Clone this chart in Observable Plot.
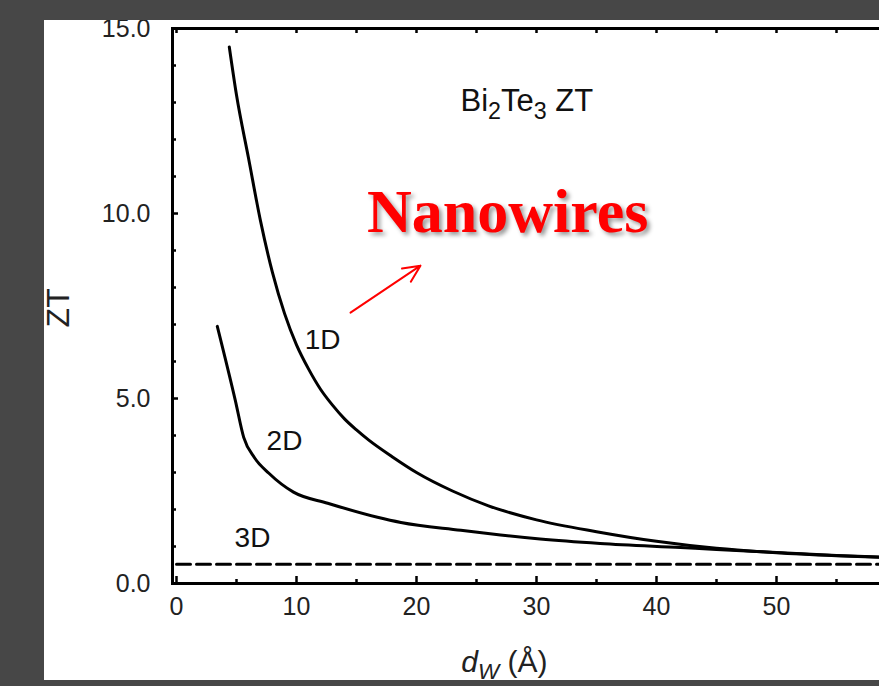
<!DOCTYPE html>
<html><head><meta charset="utf-8">
<script src="https://cdn.jsdelivr.net/npm/d3@7"></script>
<script src="https://cdn.jsdelivr.net/npm/@observablehq/plot@0.6"></script>
<style>
html,body{margin:0;padding:0;background:#474747;width:879px;height:686px;overflow:hidden;}
#panel{position:absolute;left:44px;top:20px;width:835px;height:660px;background:#fff;overflow:hidden;}
#chart{position:absolute;left:-44px;top:-20px;width:920px;height:680px;}
#chart svg{max-width:none !important;width:920px;height:680px;}
</style></head><body><div id="panel"><div id="chart"></div></div>
<script>
// ---- data ----
const dw1D = [4.4, 5, 6, 7, 8, 9, 10, 11, 12, 13, 14, 15, 16, 18, 20, 23, 26, 30, 35, 40, 45, 50, 55, 60];
const zt1D = [14.5, 13.2, 11.5, 9.8, 8.4, 7.3, 6.45, 5.8, 5.25, 4.82, 4.45, 4.15, 3.88, 3.42, 3.0, 2.5, 2.1, 1.72, 1.40, 1.14, 0.95, 0.83, 0.75, 0.69];
const dw2D = [3.4, 4.9, 5.6, 6.5, 7.7, 9.75, 12.6, 16.75, 18.7, 23.7, 27, 30.3, 35.3, 42, 45, 50, 55, 60];
const zt2D = [6.95, 4.95, 3.95, 3.4, 2.98, 2.47, 2.17, 1.79, 1.65, 1.44, 1.31, 1.2, 1.08, 0.97, 0.92, 0.84, 0.76, 0.70];
const dw3D = [0, 62];
const zt3D = [0.52, 0.52];

const xTickLabels = [0, 10, 20, 30, 40, 50, 60];
const xMinorTicks = [5, 15, 25, 35, 45, 55];
const xTopTicks = [0, 5, 10, 15, 20, 25, 30, 35, 40, 45, 50, 55, 60];
const yTickLabels = [0, 5, 10, 15];
const yMinorTicks = [1, 2, 3, 4, 6, 7, 8, 9, 11, 12, 13, 14];

const curveLabels = [
  {x: 12.17, y: 6.57, text: "1D"},
  {x: 9.0, y: 3.86, text: "2D"},
  {x: 6.33, y: 1.22, text: "3D"}
];
const titleLabel = [{x: 23.67, y: 13.05, text: "Bi2Te3 ZT"}];
const nanoLabel = [{x: 27.6, y: 10.03, text: "Nanowires"}];
const nanoArrow = [{x1: 14.5, y1: 7.32, x2: 20.33, y2: 8.59}];
const xAxisLabel = [{x: 27.33, y: -2.14, text: "dW (Å)"}];
const yAxisLabel = [{x: -9.8, y: 7.45, text: "ZT"}];

// ---- build ----
const W = 920, H = 680, mL = 172, mT = 28, mB = 97, mR = 0;
const innerH = H - mT - mB, innerW = W - mL - mR;
const toRows = (xs, ys) => xs.map((x, i) => ({x, y: ys[i]}));

const chart = Plot.plot({
  width: W, height: H,
  marginLeft: mL, marginRight: mR, marginTop: mT, marginBottom: mB,
  style: {fontFamily: "'Liberation Sans', Arial, sans-serif", color: "#222", background: "transparent", overflow: "visible"},
  x: {domain: [-1/3, 62], axis: null},
  y: {domain: [0, 15], axis: null},
  marks: [
    Plot.line(toRows(dw3D, zt3D), {x: "x", y: "y", stroke: "black", strokeWidth: 3, strokeDasharray: "14,6"}),
    Plot.line(toRows(dw2D, zt2D), {x: "x", y: "y", stroke: "black", strokeWidth: 3, curve: "monotone-x"}),
    Plot.line(toRows(dw1D, zt1D), {x: "x", y: "y", stroke: "black", strokeWidth: 3, curve: "monotone-x"}),
    // inward ticks
    Plot.ruleX(xTickLabels, {x: d => d, insetTop: innerH - 7, stroke: "black", strokeWidth: 2.5}),
    Plot.ruleX(xMinorTicks, {x: d => d, insetTop: innerH - 4, stroke: "black", strokeWidth: 2.5}),
    Plot.ruleX(xTopTicks, {x: d => d, insetBottom: innerH - 5, stroke: "black", strokeWidth: 2.5}),
    Plot.ruleY(yTickLabels, {y: d => d, insetRight: innerW - 6, stroke: "black", strokeWidth: 2.5}),
    Plot.ruleY(yMinorTicks, {y: d => d, insetRight: innerW - 4, stroke: "black", strokeWidth: 2.5}),
    Plot.axisX(xTickLabels, {tickSize: 0, tickPadding: 14, fontSize: 25, fill: "#222", label: null}),
    Plot.axisY(yTickLabels, {tickSize: 0, tickPadding: 22, fontSize: 25, fill: "#222", label: null, tickFormat: d => d.toFixed(1)}),
    Plot.frame({stroke: "black", strokeWidth: 3}),
    Plot.text(curveLabels, {x: "x", y: "y", text: "text", fontSize: 28, fill: "#111"}),
    Plot.text(titleLabel, {x: "x", y: "y", text: "text", fontSize: 31, fill: "#111", textAnchor: "start"}),
    Plot.text(nanoLabel, {x: "x", y: "y", text: "text", fontSize: 62, fill: "#ff0000", fontWeight: "bold", fontFamily: "'Liberation Serif', 'Times New Roman', serif"}),
    Plot.arrow(nanoArrow, {x1: "x1", y1: "y1", x2: "x2", y2: "y2", stroke: "#ff0000", strokeWidth: 2, headLength: 14, headAngle: 50}),
    Plot.text(xAxisLabel, {x: "x", y: "y", text: "text", fontSize: 30, fill: "#222"}),
    Plot.text(yAxisLabel, {x: "x", y: "y", text: "text", fontSize: 32, fill: "#222", rotate: -90})
  ]
});
document.getElementById("chart").appendChild(chart);

// subscripts / italics / shadow on the real text elements
const svg = d3.select(chart);
const byText = s => svg.selectAll("text").filter(function () { return this.textContent === s; });
byText("Bi2Te3 ZT").each(function () {
  const t = d3.select(this); t.text(null);
  t.append("tspan").text("Bi");
  t.append("tspan").attr("baseline-shift", "-33%").attr("font-size", "0.75em").text("2");
  t.append("tspan").text("Te");
  t.append("tspan").attr("baseline-shift", "-33%").attr("font-size", "0.75em").text("3");
  t.append("tspan").text(" ZT");
});
byText("dW (Å)").each(function () {
  const t = d3.select(this); t.text(null);
  t.append("tspan").attr("font-style", "italic").text("d");
  t.append("tspan").attr("font-style", "italic").attr("baseline-shift", "-30%").attr("font-size", "0.75em").text("W");
  t.append("tspan").text(" (Å)");
});
byText("Nanowires").style("filter", "drop-shadow(3px 3px 2px rgba(0,0,0,0.4))");
</script>
</body></html>
